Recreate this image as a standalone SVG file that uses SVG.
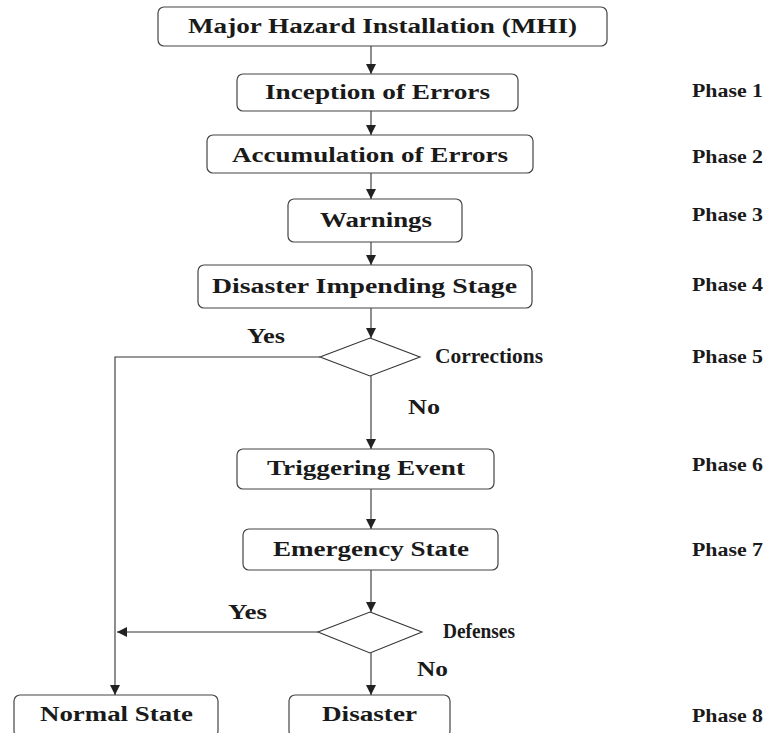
<svg xmlns="http://www.w3.org/2000/svg" width="784" height="733" viewBox="0 0 784 733">
  <style>
    .box { fill: #ffffff; stroke: #444; stroke-width: 1.2; }
    .dia { fill: #ffffff; stroke: #333; stroke-width: 1.1; }
    .line { fill: none; stroke: #333; stroke-width: 1.1; }
    .lbl { font-family: "Liberation Serif", "Times New Roman", serif; font-weight: bold; font-size: 20px; fill: #1a1a1a; }
    .ph { font-family: "Liberation Serif", "Times New Roman", serif; font-weight: bold; font-size: 18px; fill: #1a1a1a; }
  </style>
  <defs>
    <marker id="arr" viewBox="0 0 10 10" refX="10" refY="5" markerWidth="10" markerHeight="10" markerUnits="userSpaceOnUse" orient="auto">
      <path d="M0,0 L10,5 L0,10 Z" fill="#222"/>
    </marker>
  </defs>
  <rect width="784" height="733" fill="#ffffff"/>

  <g id="connectors">
    <line class="line" x1="371" y1="46" x2="371" y2="74" marker-end="url(#arr)"/>
    <line class="line" x1="371" y1="111" x2="371" y2="135" marker-end="url(#arr)"/>
    <line class="line" x1="371" y1="173" x2="371" y2="199" marker-end="url(#arr)"/>
    <line class="line" x1="371" y1="242" x2="371" y2="265" marker-end="url(#arr)"/>
    <line class="line" x1="371" y1="308" x2="371" y2="338" marker-end="url(#arr)"/>
    <line class="line" x1="371" y1="376" x2="371" y2="449" marker-end="url(#arr)"/>
    <line class="line" x1="371" y1="489" x2="371" y2="529" marker-end="url(#arr)"/>
    <line class="line" x1="371" y1="570" x2="371" y2="612" marker-end="url(#arr)"/>
    <line class="line" x1="371" y1="653" x2="371" y2="695" marker-end="url(#arr)"/>
    <polyline class="line" points="320,357 115,357 115,695" marker-end="url(#arr)"/>
    <line class="line" x1="318" y1="632" x2="117" y2="632" marker-end="url(#arr)"/>
    <text class="lbl" x="247" y="343" textLength="38" lengthAdjust="spacingAndGlyphs">Yes</text>
    <text class="lbl" x="408" y="414" textLength="32" lengthAdjust="spacingAndGlyphs">No</text>
    <text class="lbl" x="228" y="619" textLength="39" lengthAdjust="spacingAndGlyphs">Yes</text>
    <text class="lbl" x="417" y="676" textLength="31" lengthAdjust="spacingAndGlyphs">No</text>
  </g>

  <g id="mhi">
    <rect class="box" x="158" y="7" width="449" height="39" rx="6"/>
    <text class="lbl" x="188" y="33" textLength="389" lengthAdjust="spacingAndGlyphs">Major Hazard Installation (MHI)</text>
  </g>
  <g id="inception">
    <rect class="box" x="237" y="74" width="281" height="37" rx="6"/>
    <text class="lbl" x="265" y="99" textLength="225" lengthAdjust="spacingAndGlyphs">Inception of Errors</text>
  </g>
  <g id="accumulation">
    <rect class="box" x="207" y="135" width="326" height="38" rx="6"/>
    <text class="lbl" x="232" y="162" textLength="276" lengthAdjust="spacingAndGlyphs">Accumulation of Errors</text>
  </g>
  <g id="warnings">
    <rect class="box" x="288" y="199" width="174" height="43" rx="6"/>
    <text class="lbl" x="320" y="227" textLength="112" lengthAdjust="spacingAndGlyphs">Warnings</text>
  </g>
  <g id="impending">
    <rect class="box" x="198" y="265" width="334" height="43" rx="6"/>
    <text class="lbl" x="212" y="293" textLength="305" lengthAdjust="spacingAndGlyphs">Disaster Impending Stage</text>
  </g>
  <g id="corrections">
    <polygon class="dia" points="370,338 420,357 370,376 320,357"/>
    <text class="lbl" x="435" y="363" textLength="108" lengthAdjust="spacingAndGlyphs">Corrections</text>
  </g>
  <g id="triggering">
    <rect class="box" x="237" y="449" width="257" height="40" rx="6"/>
    <text class="lbl" x="267" y="475" textLength="198" lengthAdjust="spacingAndGlyphs">Triggering Event</text>
  </g>
  <g id="emergency">
    <rect class="box" x="243" y="529" width="255" height="41" rx="6"/>
    <text class="lbl" x="273" y="556" textLength="196" lengthAdjust="spacingAndGlyphs">Emergency State</text>
  </g>
  <g id="defenses">
    <polygon class="dia" points="370,612 422,632 370,653 318,632"/>
    <text class="lbl" x="443" y="638" textLength="72" lengthAdjust="spacingAndGlyphs">Defenses</text>
  </g>
  <g id="normal">
    <rect class="box" x="14" y="695" width="204" height="42" rx="6"/>
    <text class="lbl" x="40" y="721" textLength="153" lengthAdjust="spacingAndGlyphs">Normal State</text>
  </g>
  <g id="disaster">
    <rect class="box" x="289" y="695" width="161" height="42" rx="6"/>
    <text class="lbl" x="322" y="721" textLength="95" lengthAdjust="spacingAndGlyphs">Disaster</text>
  </g>

  <g id="phases">
    <text class="ph" x="692" y="97" textLength="71" lengthAdjust="spacingAndGlyphs">Phase 1</text>
    <text class="ph" x="692" y="163" textLength="71" lengthAdjust="spacingAndGlyphs">Phase 2</text>
    <text class="ph" x="692" y="221" textLength="71" lengthAdjust="spacingAndGlyphs">Phase 3</text>
    <text class="ph" x="692" y="291" textLength="71" lengthAdjust="spacingAndGlyphs">Phase 4</text>
    <text class="ph" x="692" y="363" textLength="71" lengthAdjust="spacingAndGlyphs">Phase 5</text>
    <text class="ph" x="692" y="471" textLength="71" lengthAdjust="spacingAndGlyphs">Phase 6</text>
    <text class="ph" x="692" y="556" textLength="71" lengthAdjust="spacingAndGlyphs">Phase 7</text>
    <text class="ph" x="692" y="722" textLength="71" lengthAdjust="spacingAndGlyphs">Phase 8</text>
  </g>
</svg>
